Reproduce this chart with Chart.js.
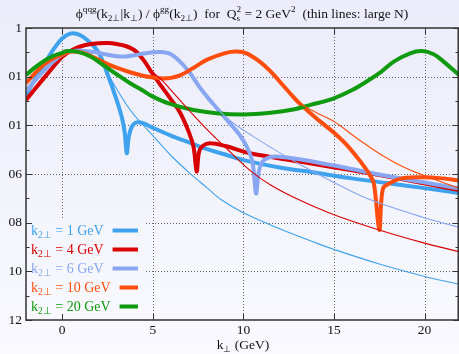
<!DOCTYPE html>
<html><head><meta charset="utf-8">
<script src="https://cdn.jsdelivr.net/npm/chart.js@4.4.0/dist/chart.umd.min.js"></script>
<style>html,body{margin:0;padding:0;overflow:hidden;background:#f3f3fc}</style>
</head><body>
<canvas id="c" width="459" height="354"></canvas>
<script>
const FONT = '"Liberation Serif","Times New Roman",serif';
const seriesLabels = ['1 GeV', '4 GeV', '6 GeV', '10 GeV', '20 GeV'];
const seriesColors = ['#3ea2ee', '#d80000', '#88a6f2', '#ff4d0d', '#0f9a0f'];
const xTickValues = [0, 5, 10, 15, 20];
const yTickValues = [-12, -11, -10, -9, -8, -7, -6, -5, -4, -3, -2, -1, 0];
const yTickLabels = {'0': '1', '-2': '01', '-4': '01', '-6': '06', '-8': '08', '-10': '10', '-12': '12'};

// log10 of the ratio
const k1ThickX = [-2,-1.5,-1,-0.5,0,0.5,1,1.5,2,2.5,3,3.3,3.45,3.56,3.68,3.85,4.1,4.5,5,6,7,8,9,10,12,14,16,18,20,21.9];
const k1ThickY = [-2.75,-2.1,-1.5,-0.9,-0.43,-0.22,-0.3,-0.58,-1.0,-1.9,-2.95,-3.7,-4.3,-5.15,-4.45,-4.05,-3.88,-3.92,-4.1,-4.42,-4.7,-4.98,-5.2,-5.43,-5.73,-5.95,-6.18,-6.38,-6.58,-6.78];
const k1ThinX = [2.4,2.7,3,3.5,4,4.85,6,7,8,8.8,10,12,14,15,17.5,19.9,21.9];
const k1ThinY = [-1.7,-2.12,-2.5,-3.1,-3.6,-4.3,-5.24,-5.94,-6.57,-7.07,-7.59,-8.25,-8.83,-9.1,-9.7,-10.19,-10.53];

const k4ThickX = [-2,-1.5,-1,-0.5,0,0.5,1,1.5,2,2.5,3,3.5,4,4.5,5,5.5,6,6.5,7,7.25,7.42,7.55,7.75,8.16,9,10.36,13.1,16,19,21.9];
const k4ThickY = [-2.96,-2.5,-2.05,-1.6,-1.18,-0.92,-0.76,-0.67,-0.63,-0.62,-0.66,-0.74,-0.92,-1.33,-1.9,-2.42,-2.93,-3.47,-4.3,-4.9,-5.9,-5.1,-4.85,-4.74,-4.85,-5.15,-5.49,-5.85,-6.25,-6.66];
const k4ThinX = [4.5,5,5.58,6,7,8,9,10.36,11.5,13.1,14.96,17.5,19.9,21.9];
const k4ThinY = [-1.33,-1.8,-2.2,-2.55,-3.38,-4.18,-4.9,-5.85,-6.45,-7.07,-7.66,-8.3,-8.82,-9.19];

const k6ThickX = [-2,-1.5,-1,-0.5,0,0.5,1,1.5,2,2.5,3,3.5,4,4.5,5,5.5,6,6.5,7,7.6,8,8.5,9,9.5,9.8,10.2,10.5,10.7,10.85,11.1,11.5,11.85,13,15,17.7,21.9];
const k6ThickY = [-2.6,-2.15,-1.75,-1.38,-1.1,-0.96,-0.93,-0.97,-1.02,-1.1,-1.16,-1.17,-1.12,-1.05,-1.0,-0.99,-1.08,-1.38,-1.8,-2.45,-2.83,-3.27,-3.7,-4.13,-4.4,-4.9,-5.5,-6.8,-5.9,-5.45,-5.3,-5.28,-5.38,-5.65,-6.05,-6.59];
const k6ThinX = [8.3,8.6,9.1,9.7,10.36,11.5,13.1,15,16.8,19.9,21.9];
const k6ThinY = [-3.1,-3.35,-3.71,-4.05,-4.37,-4.9,-5.6,-6.35,-7.0,-7.78,-8.19];

const k10ThickX = [-2,-1.5,-1,-0.5,0,0.44,1,1.5,2,2.5,3,3.75,4.5,5,5.5,6,6.5,7.2,8,9,9.63,10.2,10.9,11.5,12,12.5,13.1,13.7,14.3,15,15.7,16.4,16.9,17.2,17.5,17.7,18.1,18.8,19.9,21,21.9];
const k10ThickY = [-2.27,-1.85,-1.5,-1.25,-1.1,-0.97,-1.0,-1.12,-1.3,-1.48,-1.63,-1.82,-1.97,-2.03,-2.07,-2.05,-1.95,-1.66,-1.3,-1.03,-0.97,-1.05,-1.38,-1.78,-2.2,-2.62,-3.1,-3.5,-3.88,-4.3,-4.8,-5.43,-5.95,-6.4,-8.3,-6.6,-6.37,-6.17,-6.13,-6.18,-6.27];
const k10ThinX = [12.5,13.1,14,14.96,16.3,17.7,18.8,19.9,21.9];
const k10ThinY = [-2.62,-3.08,-3.47,-3.82,-4.55,-5.25,-5.7,-6.04,-6.59];

const k20ThickX = [-2,-1.5,-1,-0.5,0,0.26,0.8,1.5,2.26,3,3.75,4.4,5,5.95,7.24,8.5,10,11.5,12.75,13.7,14.96,16,16.8,17.6,18.3,19.2,19.85,20.5,21,21.9];
const k20ThickY = [-1.93,-1.62,-1.35,-1.15,-1.02,-0.95,-0.97,-1.15,-1.52,-1.9,-2.27,-2.55,-2.82,-3.12,-3.37,-3.5,-3.55,-3.48,-3.35,-3.16,-2.9,-2.55,-2.2,-1.8,-1.38,-1.04,-0.95,-1.08,-1.35,-1.93];

const pts = (xs, ys) => xs.map((x, i) => ({x, y: ys[i]}));
const ds = (xs, ys, color, w) => ({data: pts(xs, ys), borderColor: color, borderWidth: w, pointRadius: 0, fill: false, tension: 0.35, borderJoinStyle: 'round'});

const datasets = [
  ds(k1ThinX, k1ThinY, seriesColors[0], 1.1),
  ds(k4ThinX, k4ThinY, seriesColors[1], 1.1),
  ds(k6ThinX, k6ThinY, seriesColors[2], 1.1),
  ds(k10ThinX, k10ThinY, seriesColors[3], 1.1),
  ds(k20ThickX, k20ThickY, seriesColors[4], 4),
  ds(k10ThickX, k10ThickY, seriesColors[3], 4),
  ds(k6ThickX, k6ThickY, seriesColors[2], 4),
  ds(k4ThickX, k4ThickY, seriesColors[1], 4),
  ds(k1ThickX, k1ThickY, seriesColors[0], 4)
];

function bgGrad(ctx, h) {
  const g = ctx.createLinearGradient(0, 0, 0, h);
  g.addColorStop(0, '#ececfa');
  g.addColorStop(1, '#f9f9fe');
  return g;
}

function drawRich(ctx, runs, x, y, size, color, align) {
  const small = size * 0.68;
  const items = [];
  let w = 0;
  for (const [t, m] of runs) {
    if (m === 'ss') {
      const [a, b] = t.split('|');
      ctx.font = small + 'px ' + FONT;
      const wa = ctx.measureText(a).width, wb = ctx.measureText(b).width;
      items.push({t: a, m: 'sub', x: w});
      items.push({t: b, m: 'sup', x: w});
      w += Math.max(wa, wb);
    } else {
      ctx.font = (m ? small : size) + 'px ' + FONT;
      items.push({t, m, x: w});
      w += ctx.measureText(t).width;
    }
  }
  const x0 = align === 'center' ? x - w / 2 : x;
  ctx.fillStyle = color;
  ctx.textAlign = 'left';
  ctx.textBaseline = 'alphabetic';
  for (const it of items) {
    ctx.font = (it.m ? small : size) + 'px ' + FONT;
    const dy = it.m === 'sup' ? -size * 0.38 : it.m === 'sub' ? size * 0.24 : 0;
    ctx.fillText(it.t, x0 + it.x, y + dy);
  }
  return x0 + w;
}

const deco = {
  id: 'deco',
  beforeDraw(chart) {
    const {ctx, width, height} = chart;
    ctx.save();
    ctx.fillStyle = bgGrad(ctx, height);
    ctx.fillRect(0, 0, width, height);
    ctx.restore();
  },
  beforeDatasetsDraw(chart) {
    const {ctx, chartArea: a, scales: {x, y}} = chart;
    ctx.save();
    ctx.strokeStyle = '#666';
    ctx.lineWidth = 1;
    ctx.setLineDash([1, 2]);
    for (const v of xTickValues) {
      const px = Math.round(x.getPixelForValue(v)) + 0.5;
      ctx.beginPath(); ctx.moveTo(px, a.top); ctx.lineTo(px, a.bottom); ctx.stroke();
    }
    for (const v of yTickValues) {
      if (v % 2 !== 0 || v === 0 || v === -12) continue;
      const py = Math.round(y.getPixelForValue(v)) + 0.5;
      ctx.beginPath(); ctx.moveTo(a.left, py); ctx.lineTo(a.right, py); ctx.stroke();
    }
    ctx.restore();
  },
  afterDatasetsDraw(chart) {
    const {ctx, chartArea: a, scales: {x, y}, height} = chart;
    ctx.save();
    // legend box
    ctx.fillStyle = bgGrad(ctx, height);
    ctx.fillRect(27, 219, 119, 100);
    seriesLabels.forEach((lab, i) => {
      const base = 235 + i * 19;
      const end = drawRich(ctx, [['k', ''], ['2⊥', 'sub'], [' = ' + lab, '']], 31, base, 14, seriesColors[i], 'left');
      ctx.strokeStyle = seriesColors[i];
      ctx.lineWidth = 4;
      ctx.beginPath(); ctx.moveTo(end + 9, base - 4.5); ctx.lineTo(138, base - 4.5); ctx.stroke();
    });
    // frame
    ctx.strokeStyle = '#333';
    ctx.lineWidth = 1.5;
    ctx.strokeRect(a.left, a.top, a.right - a.left - 0.75, a.bottom - a.top);
    ctx.lineWidth = 1;
    for (const v of xTickValues) {
      const px = Math.round(x.getPixelForValue(v)) + 0.5;
      ctx.beginPath(); ctx.moveTo(px, a.bottom); ctx.lineTo(px, a.bottom - 6);
      ctx.moveTo(px, a.top); ctx.lineTo(px, a.top + 6); ctx.stroke();
    }
    for (const v of yTickValues) {
      const py = Math.round(y.getPixelForValue(v)) + 0.5;
      const len = v % 2 === 0 ? 6 : 3.5;
      ctx.beginPath(); ctx.moveTo(a.left, py); ctx.lineTo(a.left + len, py);
      ctx.moveTo(a.right, py); ctx.lineTo(a.right - len, py); ctx.stroke();
    }
    // title
    drawRich(ctx, [['ϕ', ''], ['qqg', 'sup'], ['(k', ''], ['2⊥', 'sub'], ['|k', ''], ['⊥', 'sub'], [') / ϕ', ''], ['gg', 'sup'], ['(k', ''], ['2⊥', 'sub'], [')  for  Q', ''], ['s|2', 'ss'], [' = 2 GeV', ''], ['2', 'sup'], ['  (thin lines: large N)', '']], 242, 17.5, 13.5, '#111', 'center');
    // x axis title
    drawRich(ctx, [['k', ''], ['⊥', 'sub'], [' (GeV)', '']], 243, 349, 13.5, '#111', 'center');
    ctx.restore();
  }
};

new Chart(document.getElementById('c'), {
  type: 'line',
  data: {datasets},
  options: {
    responsive: false,
    animation: false,
    devicePixelRatio: 1,
    layout: {padding: {top: 28, right: 0, left: 0, bottom: 0}},
    plugins: {legend: {display: false}, tooltip: {enabled: false}, title: {display: false}},
    scales: {
      x: {
        type: 'linear', min: -2, max: 21.9,
        afterFit: s => { s.height = 34; },
        afterBuildTicks: s => { s.ticks = xTickValues.map(v => ({value: v})); },
        ticks: {font: {family: FONT, size: 13.5}, color: '#111', padding: 2, maxRotation: 0, autoSkip: false},
        grid: {display: false, drawTicks: false},
        border: {display: false}
      },
      y: {
        type: 'linear', min: -12, max: 0,
        afterFit: s => { s.width = 26; },
        afterBuildTicks: s => { s.ticks = yTickValues.map(v => ({value: v})); },
        ticks: {font: {family: FONT, size: 13.5}, color: '#111', padding: 4, autoSkip: false,
          callback: v => (yTickLabels[String(v)] !== undefined ? yTickLabels[String(v)] : '')},
        grid: {display: false, drawTicks: false},
        border: {display: false}
      }
    }
  },
  plugins: [deco]
});
</script>
</body></html>
